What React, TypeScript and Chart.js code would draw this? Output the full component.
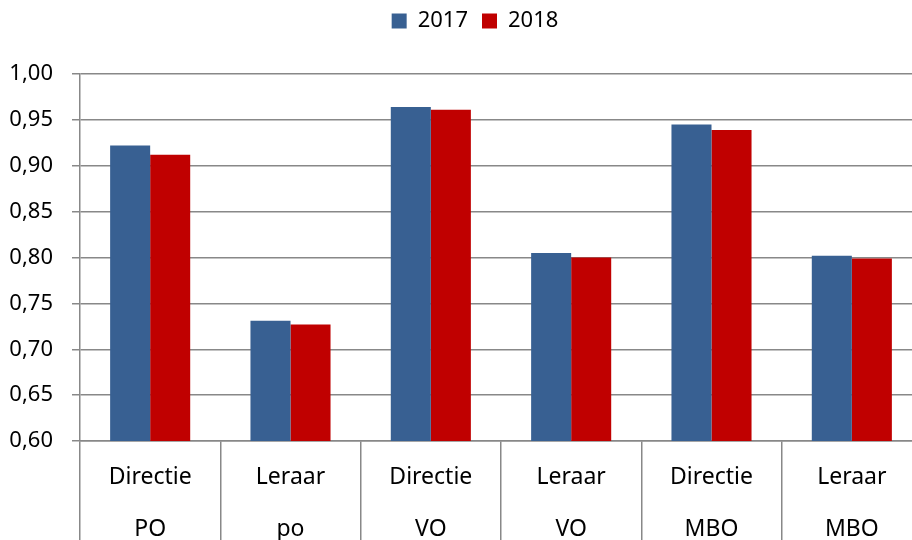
import React, { useEffect, useRef } from "react";
import { Chart, registerables } from "chart.js";

Chart.register(...registerables);

const categories: string[][] = [
  ["Directie", "PO"],
  ["Leraar", "po"],
  ["Directie", "VO"],
  ["Leraar", "VO"],
  ["Directie", "MBO"],
  ["Leraar", "MBO"],
];
const series2017: number[] = [0.922, 0.731, 0.964, 0.805, 0.945, 0.802];
const series2018: number[] = [0.912, 0.727, 0.961, 0.8, 0.939, 0.799];
const seriesLabels: string[] = ["2017", "2018"];
const yMin = 0.6;
const yMax = 1.0;
const yStep = 0.05;

const FONT = "'Noto Sans', sans-serif";
const GRID = "#888888";
const TOP_GAP = 28;
const LEGEND_SHIFT_Y = 32;
const LEGEND_SHIFT_X = 14;

const legendShift = {
  id: "legendShift",
  afterLayout(chart: any) {
    const lg = chart.legend;
    if (!lg) return;
    lg.left += LEGEND_SHIFT_X;
    lg.right += LEGEND_SHIFT_X;
    lg.top -= LEGEND_SHIFT_Y;
    lg.bottom -= LEGEND_SHIFT_Y;
  },
};

export default function App() {
  const ref = useRef<HTMLCanvasElement | null>(null);
  useEffect(() => {
    if (!ref.current) return;
    const chart = new Chart(ref.current, {
      type: "bar",
      data: {
        labels: categories,
        datasets: [
          {
            label: seriesLabels[0],
            data: series2017,
            backgroundColor: "#386092",
            borderWidth: 0,
          },
          {
            label: seriesLabels[1],
            data: series2018,
            backgroundColor: "#c00000",
            borderWidth: 0,
          },
        ],
      },
      plugins: [legendShift],
      options: {
        responsive: false,
        animation: false,
        layout: { padding: { left: 0, right: 0, top: TOP_GAP, bottom: 0 } },
        datasets: {
          bar: { categoryPercentage: 0.5706, barPercentage: 1.0 },
        },
        plugins: {
          legend: {
            position: "top",
            labels: {
              font: { family: FONT, size: 22 },
              color: "#000",
              boxWidth: 15,
              boxHeight: 15,
              padding: 14,
            },
          },
          tooltip: { enabled: false },
        },
        scales: {
          x: {
            grid: {
              display: true,
              offset: true,
              drawOnChartArea: false,
              drawTicks: true,
              tickLength: 100,
              color: GRID,
              lineWidth: 1.5,
            },
            border: { display: true, color: GRID, width: 1.5 },
            ticks: {
              font: { family: FONT, size: 23, lineHeight: 52 / 23 },
              color: "#000",
              padding: -90,
              maxRotation: 0,
              autoSkip: false,
            },
            afterFit: (scale: any) => {
              scale.height = 99;
            },
          },
          y: {
            min: yMin,
            max: yMax,
            grid: {
              color: GRID,
              lineWidth: 1.5,
              tickLength: 8,
              drawTicks: true,
            },
            border: { display: true, color: GRID, width: 1.5 },
            ticks: {
              stepSize: yStep,
              font: { family: FONT, size: 22 },
              color: "#000",
              padding: 19,
              callback: (v: any) => Number(v).toFixed(2).replace(".", ","),
            },
            afterFit: (scale: any) => {
              scale.width = 80;
            },
          },
        },
      },
    });
    return () => chart.destroy();
  }, []);
  return (
    <div
      style={{
        position: "fixed",
        left: 0,
        top: 0,
        width: 912,
        height: 540,
        overflow: "hidden",
        background: "#fff",
      }}
    >
      <canvas ref={ref} width={922} height={540} style={{ display: "block" }} />
    </div>
  );
}
